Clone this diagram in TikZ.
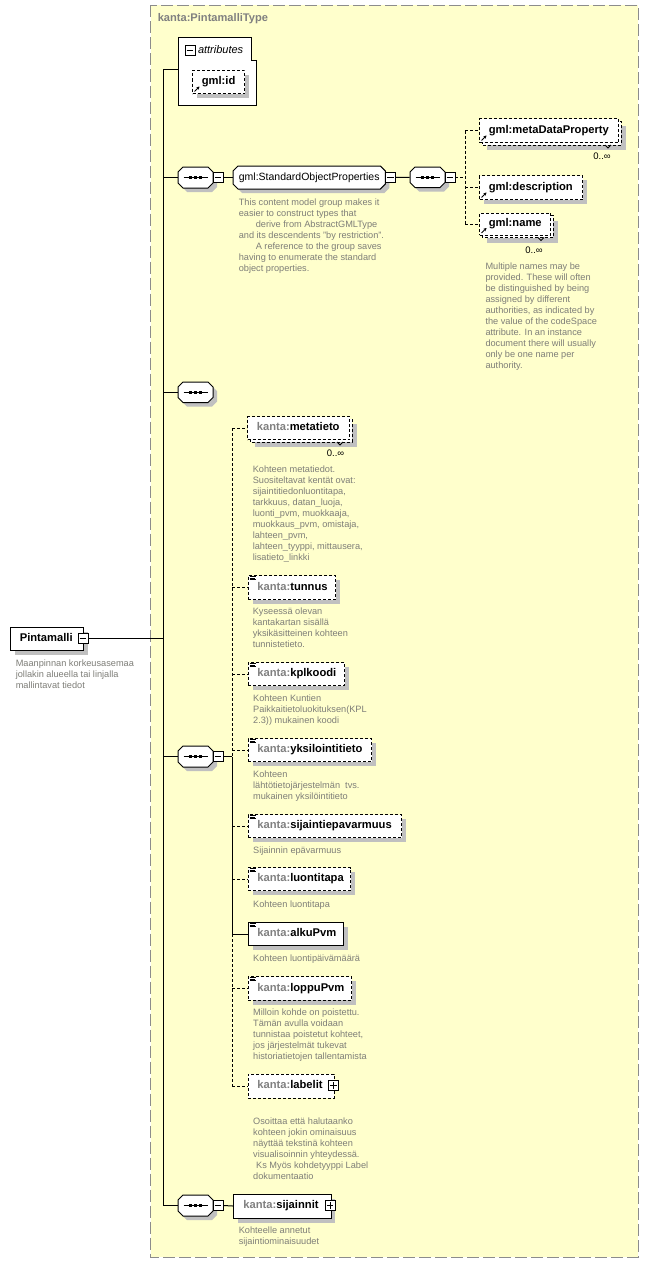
\documentclass[tikz,border=0pt]{standalone}
\usepackage{fontspec}
\setmainfont{Liberation Sans}
\usetikzlibrary{calc,arrows.meta}
\definecolor{bgy}{HTML}{FFFFCC}
\definecolor{shc}{HTML}{C0C0C0}
\definecolor{kg}{HTML}{808080}
\definecolor{dc}{HTML}{7E7E78}
\definecolor{framec}{HTML}{8C8C8C}
\newcommand\efont{\fontsize{11.2}{13}\selectfont\bfseries}
\newcommand\dfont{\fontsize{9.2}{11}\selectfont}
\newcommand\kn[1]{\textcolor{kg}{kanta:}#1}
\newcommand\E[7]{\pgfmathsetmacro\mytw{#4-#2-18.6}\pgfmathsetmacro\myth{#5-#3}\node[elem,#6,text width=\mytw pt,minimum height=\myth pt] (#1) at (#2,#3) {#7};}
\newcommand\Sh[4]{\fill[shc] (#1+5,#2+5) rectangle (#3+5,#4+5);}
\newcommand\Bk[4]{\draw[fill=white,dsh] (#1+3,#2+3) rectangle (#3+3,#4+3);}
\newcommand\Tick[2]{\draw[line width=0.8pt] (#1-3,#2) -- (#1,#2+3) -- (#1+3,#2);}
\newcommand\Ico[2]{\draw[line width=0.6pt] (#1+2,#2+1.3) -- (#1+8,#2+1.3) (#1+2,#2+2.8) -- (#1+7,#2+2.8) (#1+2,#2+4.3) -- (#1+8,#2+4.3);}
\newcommand\Ra[2]{\draw[line width=0.8pt,-{Stealth[length=3pt,width=3.2pt]}] (#1+2.5,#2-1.5) -- (#1+7.5,#2-6.5);}
\newcommand\octp[4]{(#1+5,#2) -- (#3-5,#2) -- (#3,#2+5) -- (#3,#4-5) -- (#3-5,#4) -- (#1+5,#4) -- (#1,#4-5) -- (#1,#2+5) -- cycle}
\newcommand\Oct[4]{\fill[shc] \octp{#1+4}{#2+4}{#3+4}{#4+4}; \draw[fill=white] \octp{#1}{#2}{#3}{#4};}
\newcommand\Dots[1]{\draw[line width=1pt] ($(#1.center)+(-12,0)$) -- ($(#1.center)+(12,0)$);
  \foreach \d in {-5,0,5}{\fill ($(#1.center)+(\d-1.5,-1.5)$) rectangle ($(#1.center)+(\d+1.5,1.5)$);}}
\newcommand\mn[1]{\draw[line width=0.9pt] ([xshift=2pt]#1.west) -- ([xshift=-2pt]#1.east);}
\newcommand\pl[1]{\mn{#1}\draw[line width=0.9pt] ([yshift=-2pt]#1.north) -- ([yshift=2pt]#1.south);}
\begin{document}
\begin{tikzpicture}[x=1pt,y=-1pt,line width=1pt,
  conn/.style={line width=1pt},
  dsh/.style={dash pattern=on 3pt off 2pt},
  dconn/.style={line width=1pt,dash pattern=on 3pt off 2pt},
  elem/.style={draw,fill=white,anchor=north west,inner ysep=0pt,inner xsep=9.3pt,align=left,text height=8.2pt,text depth=2.4pt,font=\efont},
  desc/.style={anchor=north west,inner sep=0pt,align=left,font=\dfont,text=dc},
  tog/.style={draw,fill=white,minimum size=10pt,inner sep=0pt,line width=0.9pt},
  seqn/.style={minimum width=35pt,minimum height=21pt,inner sep=0pt},
  occ/.style={font=\fontsize{9.5}{10}\selectfont,inner sep=0pt}
]
\useasboundingbox (0,0) rectangle (649,1263);
\fill[white] (0,0) rectangle (649,1263);
% type frame
\draw[fill=bgy,draw=framec,dash pattern=on 12pt off 4pt] (150.5,5.5) rectangle (638,1257);
\node[anchor=west,inner sep=0pt,font=\fontsize{11.1}{13}\selectfont\bfseries,text=kg] (title) at (157.3,19) {kanta:PintamalliType};

% root element
\Sh{10}{627}{83}{650}
\E{pm}{10}{627}{83}{650}{}{Pintamalli}
\node[tog] (pmtg) at (83,638.5) {}; \mn{pmtg}
\node[desc] (pmd) at (15.3,659.5) {Maanpinnan korkeusasemaa\\jollakin alueella tai linjalla\\mallintavat tiedot};

% attributes
\draw[fill=white] (178,38) -- (251.5,38) -- (251.5,61) -- (256,61) -- (256,105.5) -- (178,105.5) -- cycle;
\node[tog] (atg) at (190,50) {}; \mn{atg}
\node[anchor=west,inner sep=0pt,font=\fontsize{11}{13}\selectfont\itshape] (atxt) at (197.5,50) {attributes};
\coordinate (attr) at (178,70);
\Sh{192}{70}{244}{93}
\E{gid}{192}{70}{244}{93}{dsh}{gml:id}
\Ra{192}{93}

% sequence 1 + group
\Oct{178}{167}{213}{188}
\node[seqn] (s1) at (195.5,177.5) {}; \Dots{s1}
\node[tog] (s1tg) at (218,177.5) {}; \mn{s1tg}
\Oct{233}{166}{385.3}{189}
\node[minimum width=152pt,minimum height=23pt,inner sep=0pt,font=\fontsize{10.5}{12}\selectfont] (g) at (309.2,177.5) {gml:StandardObjectProperties};
\node[tog] (gtg) at (390.3,177.5) {}; \mn{gtg}
\node[desc] (gd) at (238.3,198.5) {This content model group makes it\\easier to construct types that\\\hspace*{17pt}derive from AbstractGMLType\\and its descendents "by restriction".\\\hspace*{17pt}A reference to the group saves\\having to enumerate the standard\\object properties.};

% sequence 2
\Oct{410}{167}{445}{187.5}
\node[seqn] (s2) at (427.5,177.3) {}; \Dots{s2}
\node[tog] (s2tg) at (450,177.3) {}; \mn{s2tg}

\Sh{482}{121}{621}{145}
\Bk{479}{118}{618}{142}
\E{mdp}{479}{118}{618}{142}{dsh}{gml:metaDataProperty}
\Ra{479}{142}
\Tick{608}{145}
\node[occ] (mdpo) at (602,156) {0..∞};

\Sh{479}{175}{582}{199}
\E{gdesc}{479}{175}{582}{199}{dsh}{gml:description}
\Ra{479}{199}

\Sh{482}{215.5}{553}{237.5}
\Bk{479}{212.5}{550}{234.5}
\E{gnm}{479}{212.5}{550}{234.5}{dsh}{gml:name}
\Ra{479}{234.5}
\Tick{541}{237.5}
\node[occ] (gnmo) at (534,250) {0..∞};
\node[desc] (gnmd) at (485,262.5) {Multiple names may be\\provided.  These will often\\be distinguished by being\\assigned by different\\authorities, as indicated by\\the value of the codeSpace\\attribute.  In an instance\\document there will usually\\only be one name per\\authority.};

% sequence 3 (empty)
\Oct{178}{382}{213}{402.5}
\node[seqn] (s3) at (195.5,392.3) {}; \Dots{s3}

% sequence 4
\Oct{178}{746}{213}{767}
\node[seqn] (s4) at (195.5,756.5) {}; \Dots{s4}
\node[tog] (s4tg) at (218,756.5) {}; \mn{s4tg}

\Sh{250}{419}{352}{442}
\Bk{247}{416}{349}{439}
\E{meta}{247}{416}{349}{439}{dsh}{\kn{metatieto}}
\Tick{340}{442}
\node[occ] (metao) at (335.5,453) {0..∞};
\node[desc] (metad) at (252.3,465.5) {Kohteen metatiedot.\\Suositeltavat kentät ovat:\\sijaintitiedonluontitapa,\\tarkkuus, datan\_luoja,\\luonti\_pvm, muokkaaja,\\muokkaus\_pvm, omistaja,\\lahteen\_pvm,\\lahteen\_tyyppi, mittausera,\\lisatieto\_linkki};

\Sh{247.5}{575}{335}{599}
\E{tun}{247.5}{575}{335}{599}{dsh}{\kn{tunnus}}
\Ico{247.5}{575}
\node[desc] (tund) at (252.3,607.5) {Kyseessä olevan\\kantakartan sisällä\\yksikäsitteinen kohteen\\tunnistetieto.};

\Sh{247.5}{662}{344}{685}
\E{kpl}{247.5}{662}{344}{685}{dsh}{\kn{kplkoodi}}
\Ico{247.5}{662}
\node[desc] (kpld) at (252.7,694.5) {Kohteen Kuntien\\Paikkaitietoluokituksen(KPL\\2.3)) mukainen koodi};

\Sh{247.5}{738}{371}{761}
\E{yks}{247.5}{738}{371}{761}{dsh}{\kn{yksilointitieto}}
\Ico{247.5}{738}
\node[desc] (yksd) at (252.7,770.8) {Kohteen\\lähtötietojärjestelmän\ \ tvs.\\mukainen yksilöintitieto};

\Sh{247.5}{814}{401}{837}
\E{sep}{247.5}{814}{401}{837}{dsh}{\kn{sijaintiepavarmuus}}
\Ico{247.5}{814}
\node[desc] (sepd) at (252.7,846.8) {Sijainnin epävarmuus};

\Sh{247.5}{867}{350}{890}
\E{luo}{247.5}{867}{350}{890}{dsh}{\kn{luontitapa}}
\Ico{247.5}{867}
\node[desc] (luod) at (252.7,900.1) {Kohteen luontitapa};

\Sh{247.5}{922}{343}{945}
\E{alku}{247.5}{922}{343}{945}{}{\kn{alkuPvm}}
\Ico{247.5}{922}
\node[desc] (alkud) at (252.7,954.5) {Kohteen luontipäivämäärä};

\Sh{247.5}{976}{351}{999.5}
\E{lop}{247.5}{976}{351}{999.5}{dsh}{\kn{loppuPvm}}
\Ico{247.5}{976}
\node[desc] (lopd) at (252.7,1008.5) {Milloin kohde on poistettu.\\Tämän avulla voidaan\\tunnistaa poistetut kohteet,\\jos järjestelmät tukevat\\historiatietojen tallentamista};

\E{lab}{247.5}{1073.5}{333.5}{1097.5}{dsh}{\kn{labelit}}
\node[tog] (labtg) at (333.5,1085.5) {}; \pl{labtg}
\node[desc] (labd) at (252.7,1117.8) {Osoittaa että halutaanko\\kohteen jokin ominaisuus\\näyttää tekstinä kohteen\\visualisoinnin yhteydessä.\\\hspace*{3pt}Ks Myös kohdetyyppi Label\\dokumentaatio};

% sequence 5
\Oct{178}{1195}{213}{1216}
\node[seqn] (s5) at (195.5,1205.5) {}; \Dots{s5}
\node[tog] (s5tg) at (218,1205.5) {}; \mn{s5tg}
\Sh{233}{1193.5}{330}{1217.5}
\E{sij}{233}{1193.5}{330}{1217.5}{inner xsep=9.8pt}{\kn{sijainnit}}
\node[tog] (sijtg) at (330,1205.5) {}; \pl{sijtg}
\node[desc] (sijd) at (238.3,1226.8) {Kohteelle annetut\\sijaintiominaisuudet};

% connectors
\coordinate (bus) at (163,638.5);
\draw[conn] (pmtg.east) -- (bus);
\draw[conn] (attr -| bus) -- (s5.west -| bus);
\draw[conn] (attr -| bus) -- (attr);
\draw[conn] (s1.west -| bus) -- (s1.west);
\draw[conn] (s3.west -| bus) -- (s3.west);
\draw[conn] (s4.west -| bus) -- (s4.west);
\draw[conn] (s5.west -| bus) -- (s5.west);
\draw[conn] (s1tg.east) -- (g.west);
\draw[conn] (gtg.east) -- (s2.west);
\draw[conn] (s5tg.east) -- (sij.west);

\coordinate (v1) at (465,177.3);
\draw[dconn] (s2tg.east) -- (v1);
\draw[dconn] (mdp.west -| v1) -- (gnm.west -| v1);
\draw[dconn] (mdp.west -| v1) -- (mdp.west);
\draw[dconn] (gdesc.west -| v1) -- (gdesc.west);
\draw[dconn] (gnm.west -| v1) -- (gnm.west);

\coordinate (v2) at (232,756.5);
\draw[conn] (s4tg.east) -- (v2);
\draw[dconn] (meta.west -| v2) -- (v2);
\draw[conn] (v2) -- (alku.west -| v2);
\draw[dconn] (alku.west -| v2) -- (lab.west -| v2);
\draw[dconn] (meta.west -| v2) -- (meta.west);
\draw[dconn] (tun.west -| v2) -- (tun.west);
\draw[dconn] (kpl.west -| v2) -- (kpl.west);
\draw[dconn] (yks.west -| v2) -- (yks.west);
\draw[dconn] (sep.west -| v2) -- (sep.west);
\draw[dconn] (luo.west -| v2) -- (luo.west);
\draw[conn] (alku.west -| v2) -- (alku.west);
\draw[dconn] (lop.west -| v2) -- (lop.west);
\draw[dconn] (lab.west -| v2) -- (lab.west);
\end{tikzpicture}
\end{document}
